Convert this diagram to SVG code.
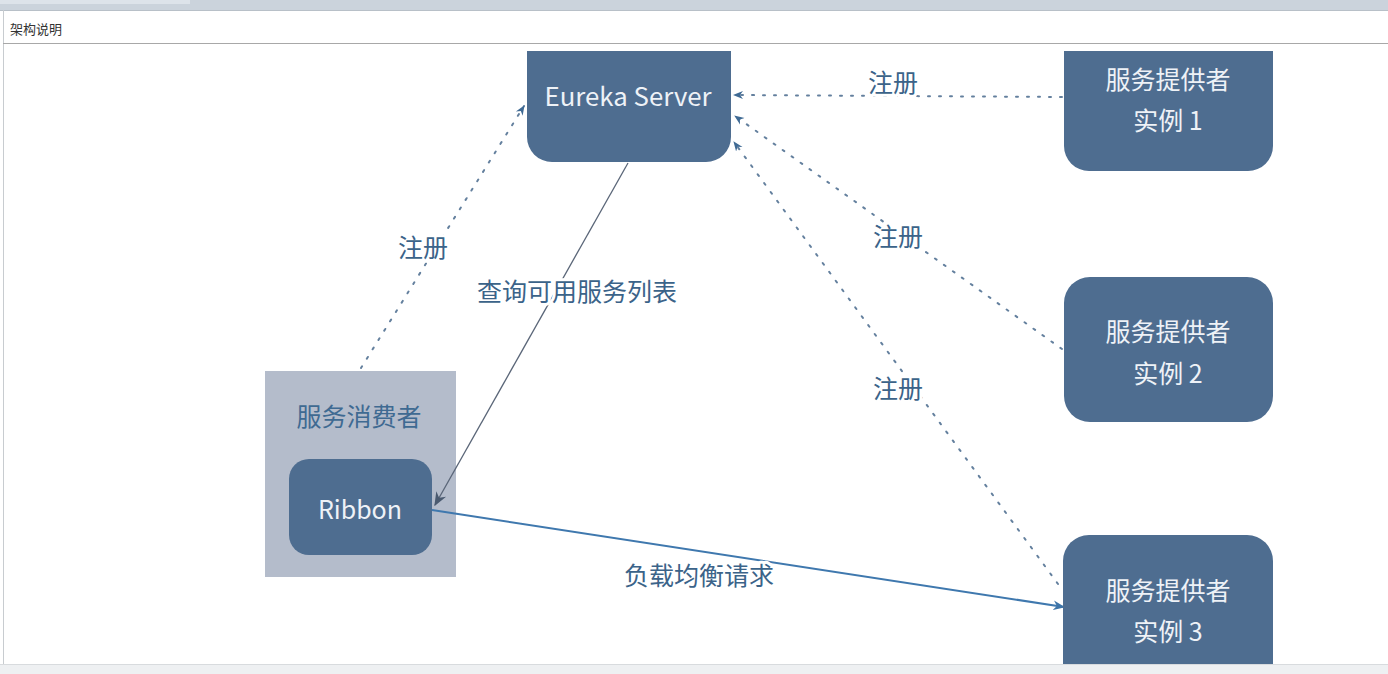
<svg xmlns="http://www.w3.org/2000/svg" width="1388" height="674" viewBox="0 0 1388 674">
  <defs>
    <marker id="ah" viewBox="0 0 10 10" refX="9" refY="5" markerWidth="10" markerHeight="10" markerUnits="userSpaceOnUse" orient="auto">
      <path d="M0,1 L10,5 L0,9 L3,5 Z" fill="#3f6a94"/>
    </marker>
    <marker id="ahd" viewBox="0 0 10 10" refX="9" refY="5" markerWidth="14" markerHeight="14" markerUnits="userSpaceOnUse" orient="auto">
      <path d="M0,1 L10,5 L0,9 L3,5 Z" fill="#4a5a70"/>
    </marker>
    <marker id="ahb" viewBox="0 0 10 10" refX="9" refY="5" markerWidth="12" markerHeight="12" markerUnits="userSpaceOnUse" orient="auto">
      <path d="M0,1 L10,5 L0,9 L3,5 Z" fill="#3d74a8"/>
    </marker>
  </defs>
  <style>
    .node { fill: #4e6d90; }
    .ntxt { fill: #eef2f7; font-family: "Noto Sans CJK SC", "Noto Sans", sans-serif; font-size: 25px; text-anchor: middle; }
    .lbl { fill: #3b6389; font-family: "Noto Sans CJK SC", "Noto Sans", sans-serif; font-size: 25px; text-anchor: middle; stroke: #ffffff; stroke-width: 6px; paint-order: stroke; stroke-linejoin: round; }
    .dot { stroke: #64809e; stroke-width: 2; stroke-dasharray: 2 9; stroke-linecap: round; fill: none; }
  </style>
  <rect width="1388" height="674" fill="#ffffff"/>
  <!-- window chrome -->
  <rect x="0" y="0" width="1388" height="10" fill="#cbd3dc"/>
  <rect x="0" y="0" width="190" height="4" fill="#dde3ea"/>
  <line x1="0" y1="10.5" x2="1388" y2="10.5" stroke="#b8c0c8"/>
  <line x1="3.5" y1="10" x2="3.5" y2="664" stroke="#c8ccd0"/>
  <line x1="3" y1="43.5" x2="1388" y2="43.5" stroke="#a8a8a8"/>
  <text x="10" y="34" font-family="Noto Sans CJK SC, sans-serif" font-size="13" fill="#333">架构说明</text>

  <g id="consumer">
    <rect x="265" y="371" width="191" height="206" fill="#b4bccb"/>
    <text x="359" y="426" fill="#3f6a92" font-family="Noto Sans CJK SC, Noto Sans, sans-serif" font-size="25" text-anchor="middle">服务消费者</text>
  </g>

  <g id="connectors">
    <line class="dot" x1="361" y1="368" x2="524" y2="106" marker-end="url(#ah)"/>
    <line class="dot" x1="1062" y1="97" x2="734" y2="95" marker-end="url(#ah)"/>
    <line class="dot" x1="1062" y1="349" x2="735" y2="116" marker-end="url(#ah)"/>
    <line class="dot" x1="1058" y1="584" x2="734" y2="142" marker-end="url(#ah)"/>
    <line x1="628" y1="163" x2="435" y2="505" stroke="#5a6678" stroke-width="1.3" marker-end="url(#ahd)"/>
    <line x1="432" y1="510" x2="1064" y2="607" stroke="#3f78ae" stroke-width="2" marker-end="url(#ahb)"/>
  </g>

  <g id="eureka">
    <path class="node" d="M527,51 H731 V137 A25,25 0 0 1 706,162 H552 A25,25 0 0 1 527,137 Z"/>
    <text class="ntxt" x="628" y="106" textLength="167" lengthAdjust="spacingAndGlyphs">Eureka Server</text>
  </g>

  <g id="provider1">
    <path class="node" d="M1064,51 H1273 V146 A25,25 0 0 1 1248,171 H1089 A25,25 0 0 1 1064,146 Z"/>
    <text class="ntxt" x="1168" y="89">服务提供者</text>
    <text class="ntxt" x="1168" y="130">实例 1</text>
  </g>

  <g id="provider2">
    <rect class="node" x="1064" y="277" width="209" height="145" rx="26"/>
    <text class="ntxt" x="1168" y="341">服务提供者</text>
    <text class="ntxt" x="1168" y="383">实例 2</text>
  </g>

  <g id="provider3">
    <rect class="node" x="1063" y="535" width="210" height="160" rx="26"/>
    <text class="ntxt" x="1168" y="600">服务提供者</text>
    <text class="ntxt" x="1168" y="641">实例 3</text>
  </g>

  <g id="ribbon">
    <rect class="node" x="289" y="459" width="143" height="96" rx="20"/>
    <text class="ntxt" x="360" y="519">Ribbon</text>
  </g>

  <g id="labels">
    <text class="lbl" x="893" y="92">注册</text>
    <text class="lbl" x="898" y="246">注册</text>
    <text class="lbl" x="898" y="398">注册</text>
    <text class="lbl" x="423" y="257">注册</text>
    <text class="lbl" x="577" y="301">查询可用服务列表</text>
    <text class="lbl" x="699" y="585">负载均衡请求</text>
  </g>

  <!-- bottom chrome -->
  <rect x="0" y="664" width="1388" height="10" fill="#eef0f2"/>
  <line x1="0" y1="664.5" x2="1388" y2="664.5" stroke="#d8dbde"/>
</svg>
